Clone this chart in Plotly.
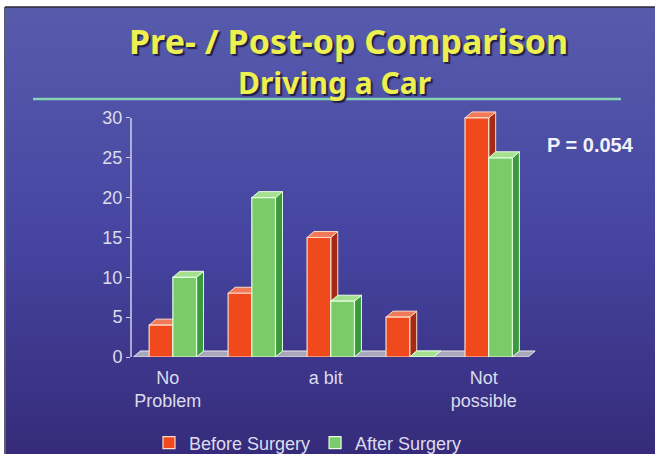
import base64
import plotly.graph_objects as go

# ---- data ----
categories = ["No Problem", "", "a bit", "", "Not possible"]
tick_text = ["No<br>Problem", "", "a bit", "", "Not<br>possible"]
before_surgery = [4, 8, 15, 5, 30]
after_surgery = [10, 20, 7, 0, 25]
y_ticks = [0, 5, 10, 15, 20, 25, 30]
p_value_text = "P = 0.054"

# ---- canvas geometry (pixels) ----
W, H = 655, 454
L, R, T, B = 131, 115, 106, 97
PW, PH = W - L - R, H - T - B
X_RANGE = [-0.53, 4.65]
Y_RANGE = [0, 31.5]

BAR_W = 0.3                       # width of each bar in category units
DX = 7 / (PW / (X_RANGE[1] - X_RANGE[0]))   # 3D depth, horizontal (data units)
DY = 6 / (PH / (Y_RANGE[1] - Y_RANGE[0]))   # 3D depth, vertical (data units)

RED = dict(front="#F04A1C", side="#A52A14", top="#F27A58", edge="#FFD9C8")
GREEN = dict(front="#7BCB6A", side="#3A9B3C", top="#A4E08E", edge="#E4FFE0")


def px_x(px):
    return (px - L) / PW


def px_y(py):
    return (H - B - py) / PH


def path(points):
    return "M " + " L ".join(f"{x},{y}" for x, y in points) + " Z"


shapes = []

# floor of the 3D plot
n = len(categories)
fx0, fx1 = -0.5, n - 0.5
shapes.append(dict(
    type="path", xref="x", yref="y", layer="below",
    path=path([(fx0, 0), (fx1, 0), (fx1 + DX, DY), (fx0 + DX, DY)]),
    fillcolor="#A8A8BA", line=dict(color="#E8E8F0", width=1),
))

# side and top faces of every bar (front faces are the Bar traces)
for i in range(n):
    for val, off, col in ((before_surgery[i], -BAR_W, RED),
                          (after_surgery[i], 0.0, GREEN)):
        x0 = i + off
        x1 = x0 + BAR_W
        shapes.append(dict(
            type="path", xref="x", yref="y", layer="below",
            path=path([(x1, 0), (x1 + DX, DY), (x1 + DX, val + DY), (x1, val)]),
            fillcolor=col["side"], line=dict(color=col["edge"], width=1),
        ))
        shapes.append(dict(
            type="path", xref="x", yref="y", layer="below",
            path=path([(x0, val), (x1, val), (x1 + DX, val + DY), (x0 + DX, val + DY)]),
            fillcolor=col["top"], line=dict(color=col["edge"], width=1),
        ))

# y axis line (stops at the top tick)
shapes.append(dict(
    type="line", xref="x domain", yref="y", x0=0, x1=0, y0=0, y1=y_ticks[-1],
    line=dict(color="#D0D0E4", width=1.5), layer="above",
))

# slide frame: thin dark edges and the green rule under the title
shapes.append(dict(type="line", xref="paper", yref="paper",
                   x0=px_x(5), x1=px_x(5), y0=px_y(7), y1=px_y(H),
                   line=dict(color="#2A2A3A", width=1.5)))
shapes.append(dict(type="line", xref="paper", yref="paper",
                   x0=px_x(5), x1=px_x(W), y0=px_y(7), y1=px_y(7),
                   line=dict(color="#2A2A3A", width=1.5)))
shapes.append(dict(type="line", xref="paper", yref="paper",
                   x0=px_x(33), x1=px_x(621), y0=px_y(99), y1=px_y(99),
                   line=dict(color="#86D2B2", width=2.5)))

# slide background gradient
gw, gh = W - 6, H - 7
svg = (
    f'<svg xmlns="http://www.w3.org/2000/svg" width="{gw}" height="{gh}" '
    f'viewBox="0 0 {gw} {gh}" preserveAspectRatio="none">'
    '<defs><linearGradient id="g" x1="0" y1="0" x2="0" y2="1">'
    '<stop offset="0" stop-color="#575BAC"/>'
    '<stop offset="0.5" stop-color="#4646A2"/>'
    '<stop offset="1" stop-color="#362B7A"/>'
    '</linearGradient></defs>'
    f'<rect width="{gw}" height="{gh}" fill="url(#g)"/></svg>'
)
bg_src = "data:image/svg+xml;base64," + base64.b64encode(svg.encode()).decode()

fig = go.Figure()
fig.add_trace(go.Bar(
    x=list(range(n)), y=before_surgery, name="Before Surgery",
    offset=-BAR_W, width=BAR_W,
    marker=dict(color=RED["front"], line=dict(color=RED["edge"], width=1.2)),
))
fig.add_trace(go.Bar(
    x=list(range(n)), y=after_surgery, name="After Surgery",
    offset=0, width=BAR_W,
    marker=dict(color=GREEN["front"], line=dict(color=GREEN["edge"], width=1.2)),
))


def title_font(size):
    return dict(family="Noto Sans, DejaVu Sans, sans-serif", size=size,
                color="#EEF050", weight="bold",
                shadow="2px 2px 1px rgba(25,25,60,0.9)")


annotations = [
    dict(text="Pre- / Post-op Comparison", x=px_x(348), y=px_y(41),
         xref="paper", yref="paper", showarrow=False, font=title_font(34),
         xanchor="center", yanchor="middle"),
    dict(text="Driving a Car", x=px_x(335), y=px_y(82),
         xref="paper", yref="paper", showarrow=False, font=title_font(30),
         xanchor="center", yanchor="middle"),
    dict(text=p_value_text, x=px_x(590), y=px_y(145),
         xref="paper", yref="paper", showarrow=False,
         font=dict(family="Liberation Sans, Arial, sans-serif", size=20,
                   color="#F2F2FA", weight="bold"),
         xanchor="center", yanchor="middle"),
]

label_font = dict(family="Liberation Sans, Arial, sans-serif", size=18, color="#DCDCEC")

fig.update_layout(
    width=W, height=H,
    margin=dict(l=L, r=R, t=T, b=B, pad=0),
    paper_bgcolor="white",
    plot_bgcolor="rgba(0,0,0,0)",
    barmode="overlay",
    showlegend=True,
    legend=dict(orientation="h", xref="container", yref="container",
                x=308 / W, y=1 - 443 / H, xanchor="center", yanchor="middle",
                font=label_font, bgcolor="rgba(0,0,0,0)",
                itemwidth=30, traceorder="normal"),
    xaxis=dict(range=X_RANGE, tickvals=list(range(n)), ticktext=tick_text,
               showgrid=False, zeroline=False, showline=False, ticks="",
               tickfont=label_font, ticklabelshift=-5, ticklabelstandoff=8),
    yaxis=dict(range=Y_RANGE, tickvals=y_ticks, showgrid=False, zeroline=False,
               showline=False, ticks="outside", ticklen=4, tickcolor="#D0D0E4",
               tickfont=label_font),
    shapes=shapes,
    annotations=annotations,
    images=[dict(source=bg_src, xref="paper", yref="paper",
                 x=px_x(6), y=px_y(7), sizex=gw / PW, sizey=gh / PH,
                 xanchor="left", yanchor="top", sizing="stretch", layer="below")],
)

fig.write_html("out.html")
